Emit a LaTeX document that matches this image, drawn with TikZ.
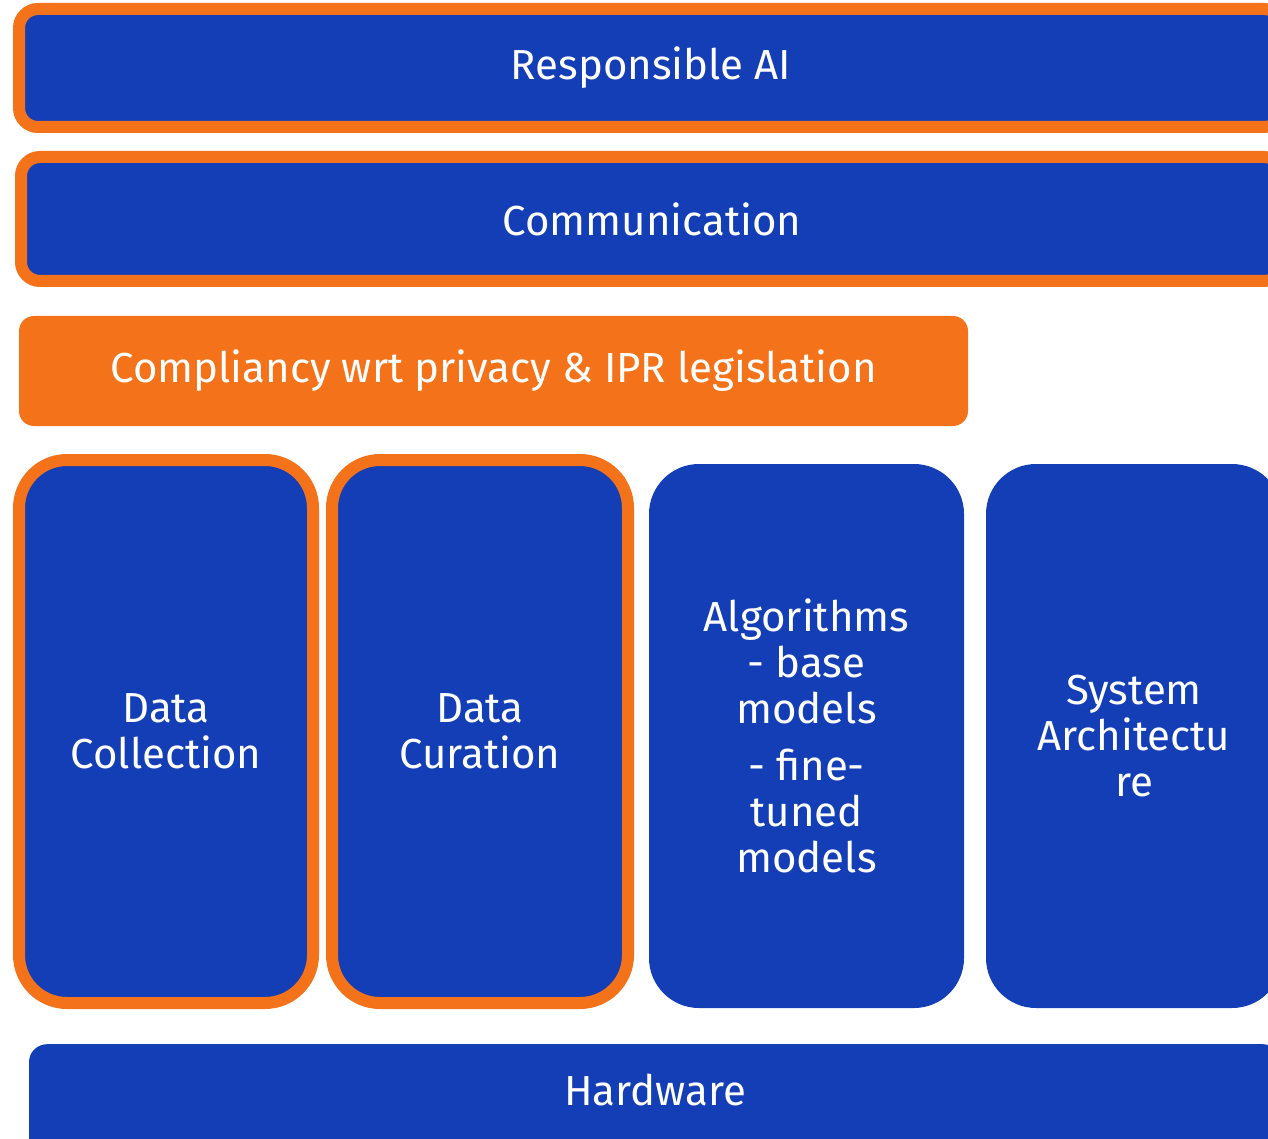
\documentclass[tikz,border=0pt]{standalone}
\usepackage{fontspec}
\setmainfont{Fira Sans}
\usepackage{xcolor}
\usepackage{tikz}
\usetikzlibrary{positioning}

\definecolor{ingblue}{HTML}{143EB5}
\definecolor{ingorange}{HTML}{F4731A}

\tikzset{
  layer/.style={fill=ingblue, text=white, inner sep=0pt, align=center,
    font=\fontsize{42}{46}\selectfont},
  framed/.style={layer, draw=ingorange, line width=12pt},
  legal/.style={layer, fill=ingorange},
}

\begin{document}
\begin{tikzpicture}[x=1pt,y=-1pt]
\useasboundingbox (0,0) rectangle (1268,1139);
\clip (0,0) rectangle (1268,1139);

% top layers
\node[framed, rounded corners=19pt, minimum width=1264pt, minimum height=118pt]
  (rai) at (651,68) {Responsible AI};
\node[framed, rounded corners=19pt, minimum width=1262pt, minimum height=124pt]
  (comm) at (652,219) {Communication};
\node[legal, rounded corners=15pt, minimum width=949pt, minimum height=110pt]
  (compl) at (493.5,371) {Compliancy wrt privacy \& IPR legislation};

% pillars
\node[framed, rounded corners=48pt, minimum width=294pt, minimum height=543pt]
  (collect) at (166,731.5) {Data\\Collection};
\node[framed, rounded corners=48pt, minimum width=296pt, minimum height=543pt]
  (curate) at (480,731.5) {Data\\Curation};
\node[layer, rounded corners=50pt, minimum width=315pt, minimum height=544pt]
  (algo) at (806.5,736) {Algorithms\\- base\\models\\[11pt]- fine-\\tuned\\models};
\node[layer, rounded corners=50pt, minimum width=296pt, minimum height=544pt]
  (sysarch) at (1134,736) {System\\Architectu\\re};

% base layer
\node[layer, rounded corners=18pt, anchor=north, minimum width=1252pt,
  minimum height=140pt, text height=30pt, text depth=48pt]
  (hw) at (655,1044) {Hardware};
\end{tikzpicture}
\end{document}
